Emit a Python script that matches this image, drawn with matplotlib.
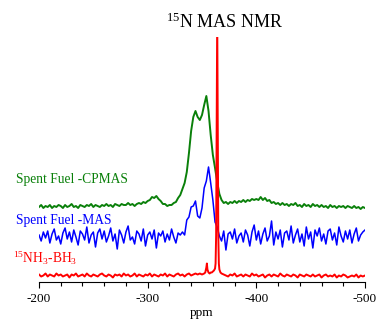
import numpy as np
import matplotlib
matplotlib.use("Agg")
import matplotlib.pyplot as plt
from matplotlib.ticker import MultipleLocator, FixedLocator

plt.rcParams['font.family'] = ['Liberation Serif', 'DejaVu Serif']
plt.rcParams['mathtext.fontset'] = 'custom'
plt.rcParams['mathtext.rm'] = 'Liberation Serif'
plt.rcParams['mathtext.it'] = 'Liberation Serif:italic'

# ---------------- data ----------------
# sampling axis (ppm), 2 ppm steps from -200 to -500
ppm = list(range(-200, -501, -2))

# Spent Fuel - CPMAS (green), intensity above its own baseline
cpmas = [1, 3, 0, 2, 1, 3, 0, 2, 1, 3,
         2, 0, 3, 1, 2, 4, 1, 2, 0, 3,
         2, 1, 3, 2, 4, 1, 3, 2, 1, 3,
         2, 4, 2, 3, 1, 4, 3, 2, 4, 3,
         3, 5, 3, 4, 2, 4, 5, 4, 6, 5,
         7, 8, 11, 10, 12, 9, 7, 4, 4, 2,
         3, 3, 5, 6, 10, 13, 19, 25, 36, 55,
         77, 91, 97, 91, 88, 93, 103, 112, 97, 73,
         53, 40, 26, 14, 8, 5, 6, 4, 6, 5,
         7, 5, 7, 6, 8, 6, 8, 7, 9, 8,
         9, 8, 11, 8, 10, 7, 8, 5, 6, 4,
         5, 3, 5, 3, 4, 2, 4, 3, 5, 2,
         3, 1, 4, 2, 3, 1, 4, 2, 3, 1,
         3, 1, 2, 0, 3, 1, 2, 0, 2, 1,
         2, 0, 2, 1, 0, 2, 0, 1, -1, 1, 0]

# Spent Fuel - MAS (blue)
mas = [2, -4, 5, -1, 6, -6, 3, 8, -3, 1,
       -7, 4, 9, -2, 5, -5, 7, 0, -8, 6,
       3, -3, 10, -6, 2, 5, -10, 4, 8, -2,
       6, -5, 1, 9, -4, 3, -12, 7, 2, -6,
       5, 11, -3, 0, -7, 6, 3, -4, 8, -9,
       2, 5, -2, 7, -11, 4, 1, 6, -5, 3,
       -3, 8, 0, -6, 4, 2,
       5, 2, 17, 20, 30, 31, 36, 21, 19, 29,
       49, 56, 70, 54, 37, 15, 10, 1,
       -4, 6, -13, 3, 5, -2, 8, -6, 1, 4,
       -5, 7, 2, -9, 5, 12, -3, 6, -7, 3,
       9, -4, 1, 16, -8, 5, -2, 7, -10, 4,
       6, -3, 11, -6, 2, 8, -5, 3, -9, 10,
       -2, 5, -11, 7, 1, 9, -4, 3, -7, 6,
       8, -3, 4, -8, 10, 1, -5, 6, -2, 7,
       -6, 3, 9, -4, 2, 5, 7]

# 15NH3-BH3 reference (red): finer sampling around the sharp line
nh3bh3_ppm = (list(range(-200, -351, -2))
              + [-352, -353, -354, -354.5, -355, -356, -357, -358, -359, -360,
                 -361, -362, -362.5, -363, -363.5, -364, -364.5, -365, -365.5,
                 -366, -367, -368]
              + list(range(-370, -501, -2)))
nh3bh3 = [1, -1, 0, 2, -1, 1, 0, -1, 2, 0, 1, -1, 0, 1, -2, 1, 0, 2, -1, 0,
          1, -1, 2, 0, -1, 1, 0, -1, 1, 2, 0, -1, 1, 0, -2, 1, 0, 1, -1, 2,
          0, 1, -1, 0, 2, -1, 1, 0, -1, 1, 0, 2, -1, 1, 0, -1, 1, 0, 2, -1,
          1, 0, -1, 1, 2, 0, 1, -1, 1, 2, 0, 1, 2, 1, 2, 1,
          2, 3, 8, 12, 6, 3, 2, 3, 3, 4,
          5, 7, 12, 40, 150, 260, 150, 40, 12,
          6, 3, 2,
          1, 0, -1, 1, 0, 2, -1, 0, 1, -1, 1, 0, -1, 2, 0, 1, -1, 0, 1, -2,
          0, 1, -1, 1, 0, -1, 2, 0, -1, 1, 0, -1, 1, 0, -2, 1, 0, -1, 1, 0,
          -1, 1, -1, 0, 1, -2, 0, 1, -1, 0, -1, 1, -2, 0, -1, 1, 0, -2, -1, 0,
          -1, 1, -2, 0, -1, 0]

labels = ["Spent Fuel -CPMAS", "Spent Fuel -MAS", "$^{15}$NH$_3$-BH$_3$"]
title = "$^{15}$N MAS NMR"
xlabel = "ppm"
major_ticks = [-200, -300, -400, -500]

# ---------------- figure ----------------
W, H = 377, 320
fig = plt.figure(figsize=(W / 100, H / 100), dpi=100)
ax_l, ax_r, ax_b, ax_t = 39, 365, 281.5, 37
ax = fig.add_axes([ax_l / W, 1 - ax_b / H, (ax_r - ax_l) / W, (ax_b - ax_t) / H])

off_red, off_blue, off_green = 6.0, 44.5, 73.5
green_c, blue_c, red_c = '#0a800a', '#0000ff', '#ff0000'

ax.plot(ppm, np.array(cpmas) + off_green, color=green_c, lw=1.4)
ax.plot(ppm, np.array(mas) + off_blue, color=blue_c, lw=1.1)
ax.plot(nh3bh3_ppm, np.array(nh3bh3) + off_red, color=red_c, lw=1.4)

ax.set_xlim(-200, -500)
ax.set_ylim(0, ax_b - ax_t)
for s in ['left', 'right', 'top']:
    ax.spines[s].set_visible(False)
ax.spines['bottom'].set_linewidth(0.8)
ax.set_yticks([])
ax.xaxis.set_major_locator(FixedLocator(major_ticks))
ax.xaxis.set_minor_locator(MultipleLocator(20))
ax.tick_params(axis='x', which='major', direction='out', length=4, width=0.8,
               labelsize=9.5, pad=4)
ax.tick_params(axis='x', which='minor', direction='out', length=3, width=0.8)
ax.set_xticklabels([str(t) for t in major_ticks])
ax.set_xlabel(xlabel, fontsize=9.5, labelpad=2)
ax.patch.set_alpha(0)

def ftext(x, y, s, **kw):
    fig.text(x / W, 1 - y / H, s, va='baseline', ha='left', **kw)

ftext(166, 28, title, fontsize=13, color='black')
ftext(16, 183, labels[0], fontsize=9.75, color=green_c)
ftext(16, 224.3, labels[1], fontsize=9.75, color=blue_c)
ftext(13, 263.3, labels[2], fontsize=9.75, color=red_c)

fig.savefig("out.png", dpi=100)
